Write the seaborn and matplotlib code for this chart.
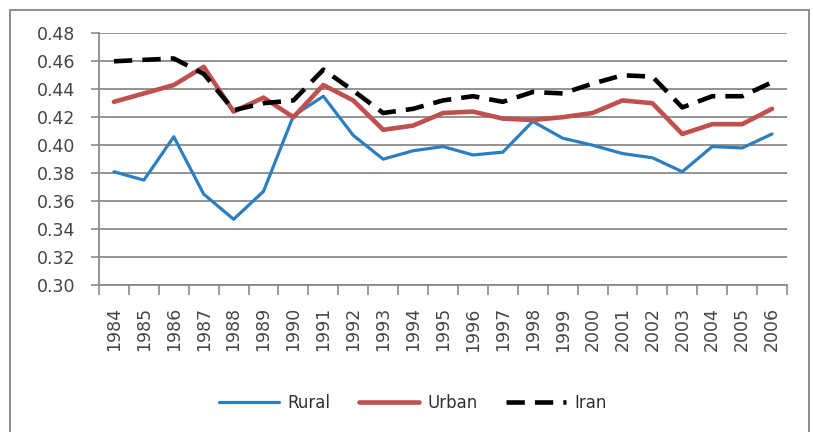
import matplotlib
matplotlib.use("Agg")
import matplotlib.pyplot as plt
import matplotlib.patches as mpatches
import numpy as np
import pandas as pd
import seaborn as sns

years = [str(y) for y in range(1984, 2007)]
rural = [0.381, 0.375, 0.406, 0.365, 0.347, 0.367, 0.421, 0.435, 0.407, 0.390,
         0.396, 0.399, 0.393, 0.395, 0.417, 0.405, 0.400, 0.394, 0.391, 0.381,
         0.399, 0.398, 0.408]
urban = [0.431, 0.437, 0.443, 0.456, 0.424, 0.434, 0.420, 0.443, 0.432, 0.411,
         0.414, 0.423, 0.424, 0.419, 0.418, 0.420, 0.423, 0.432, 0.430, 0.408,
         0.415, 0.415, 0.426]
iran = [0.460, 0.461, 0.462, 0.451, 0.425, 0.430, 0.432, 0.454, 0.439, 0.423,
        0.426, 0.432, 0.435, 0.431, 0.438, 0.437, 0.444, 0.450, 0.449, 0.427,
        0.435, 0.435, 0.445]
series_names = ["Rural", "Urban", "Iran"]
y_ticks = [0.30, 0.32, 0.34, 0.36, 0.38, 0.40, 0.42, 0.44, 0.46, 0.48]

df = pd.DataFrame({
    "year": years * 3,
    "value": rural + urban + iran,
    "region": [n for n in series_names for _ in years],
})

sns.set_theme(style="white")
plt.rcParams["font.family"] = ["DejaVu Sans"]

fig = plt.figure(figsize=(8.13, 4.32), dpi=100)
ax = fig.add_axes([99 / 813, 1 - 285 / 432, (787 - 99) / 813, (285 - 33.3) / 432])

# outer chart border
fig.patches.append(mpatches.Rectangle((10 / 813, -0.05), (809 - 10) / 813, 1.05 - 9.5 / 432,
                                      transform=fig.transFigure, fill=False,
                                      edgecolor="#8c8c8c", linewidth=1.4, zorder=0))

colors = {"Rural": "#2b7fc1", "Urban": "#c0504d", "Iran": "#000000"}
widths = {"Rural": 2.3, "Urban": 3.3, "Iran": 3.3}
x_pos = np.arange(len(years))
for name in series_names:
    sub = df[df["region"] == name].copy()
    sub["x"] = x_pos
    sns.lineplot(data=sub, x="x", y="value", ax=ax, color=colors[name],
                 linewidth=widths[name], label=name, zorder=3)
for line in ax.get_lines():
    if line.get_label() == "Iran":
        line.set_dashes((4, 2.2))

ax.set_xlim(-0.5, len(years) - 0.5)
ax.set_ylim(0.30, 0.48)
ax.set_yticks(y_ticks)
ax.set_yticklabels([f"{v:.2f}" for v in y_ticks])
ax.set_xticks(x_pos)
ax.set_xticklabels(years, rotation=90)
ax.set_xticks(np.arange(-0.5, len(years), 1.0), minor=True)
ax.set_xlabel("")
ax.set_ylabel("")

ax.grid(axis="y", color="#8a8a8a", linewidth=1.3, zorder=1)
ax.grid(axis="x", visible=False)
for s in ["top", "right"]:
    ax.spines[s].set_visible(False)
for s in ["left", "bottom"]:
    ax.spines[s].set_color("#8a8a8a")
    ax.spines[s].set_linewidth(1.3)

ax.tick_params(axis="y", which="major", length=6, width=1.2, color="#8a8a8a",
               labelsize=12.5, labelcolor="#454545", pad=11, left=True)
ax.tick_params(axis="x", which="major", length=0, labelsize=12.5,
               labelcolor="#454545", pad=16)
ax.tick_params(axis="x", which="minor", length=7, width=1.2, color="#8a8a8a",
               bottom=True)

leg = ax.legend(loc="center", bbox_to_anchor=(413 / 813, 1 - 403 / 432),
                bbox_transform=fig.transFigure, ncol=3, frameon=False,
                fontsize=12, handlelength=3.6, handletextpad=0.5,
                columnspacing=1.7)
for t in leg.get_texts():
    t.set_color("#303030")

fig.savefig("out.png", dpi=100)
